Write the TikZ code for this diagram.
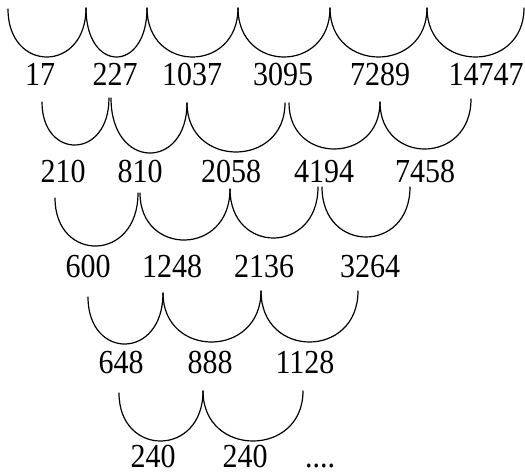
\documentclass[tikz,border=0pt]{standalone}
\usepackage{graphicx}
\usepackage{fontspec}
\setmainfont{Liberation Serif}
% U-shaped link: left end (#1,#2), right end (#3,#4), lowest point at depth #5
\newcommand\diffcup[5]{%
  \draw[cupline] (#1,#2) .. controls (#1,{(8*#5-#2-#4)/6}) and (#3,{(8*#5-#2-#4)/6}) .. (#3,#4);}
% numbers are set slightly tall and narrow
\newcommand\tallnum[1]{\scalebox{1}[1.12]{#1}}
\begin{document}
\begin{tikzpicture}[x=1pt,y=-1pt,
  num/.style={anchor=base, inner sep=0pt, font=\fontsize{30}{36}\selectfont},
  cupline/.style={line width=1.2pt, line cap=round}]
\useasboundingbox (0,0) rectangle (525,472);

% row 1
\diffcup{8}{9}{86}{8}{57}
\diffcup{86}{8}{147}{8}{57}
\diffcup{147}{8}{238}{8}{57}
\diffcup{238}{8}{330}{8}{57}
\diffcup{330}{8}{427}{8}{57}
\diffcup{427}{8}{524}{8}{57}
\node[num] (a1) at (40,85) {\tallnum{17}};
\node[num] (a2) at (115,85) {\tallnum{227}};
\node[num] (a3) at (192,85) {\tallnum{1037}};
\node[num] (a4) at (283,85) {\tallnum{3095}};
\node[num] (a5) at (380,85) {\tallnum{7289}};
\node[num] (a6) at (486,85) {\tallnum{14747}};

% row 2
\diffcup{42}{102}{109}{98}{145}
\diffcup{111}{98}{187}{103}{153}
\diffcup{187}{103}{285}{103}{152}
\diffcup{289}{103}{380}{102}{149}
\diffcup{380}{102}{471}{99}{149}
\node[num] (b1) at (63,182) {\tallnum{210}};
\node[num] (b2) at (140,182) {\tallnum{810}};
\node[num] (b3) at (231,182) {\tallnum{2058}};
\node[num] (b4) at (324,182) {\tallnum{4194}};
\node[num] (b5) at (425,182) {\tallnum{7458}};

% row 3
\diffcup{55}{198}{138}{193}{246}
\diffcup{140}{193}{230}{189}{240}
\diffcup{230}{189}{318}{187}{238}
\diffcup{322}{187}{410}{187}{237}
\node[num] (c1) at (88,277) {\tallnum{600}};
\node[num] (c2) at (172,277) {\tallnum{1248}};
\node[num] (c3) at (264,277) {\tallnum{2136}};
\node[num] (c4) at (370,277) {\tallnum{3264}};

% row 4
\diffcup{88}{297}{163}{293}{344}
\diffcup{163}{293}{261}{291}{342}
\diffcup{261}{291}{358}{291}{342}
\node[num] (d1) at (121,373) {\tallnum{648}};
\node[num] (d2) at (210,373) {\tallnum{888}};
\node[num] (d3) at (305,373) {\tallnum{1128}};

% row 5
\diffcup{119}{393}{203}{391}{441}
\diffcup{203}{391}{303}{391}{441}
\node[num] (e1) at (153,467) {\tallnum{240}};
\node[num] (e2) at (245,467) {\tallnum{240}};
\node[num] (e3) at (320,467) {\tallnum{....}};
\end{tikzpicture}
\end{document}
